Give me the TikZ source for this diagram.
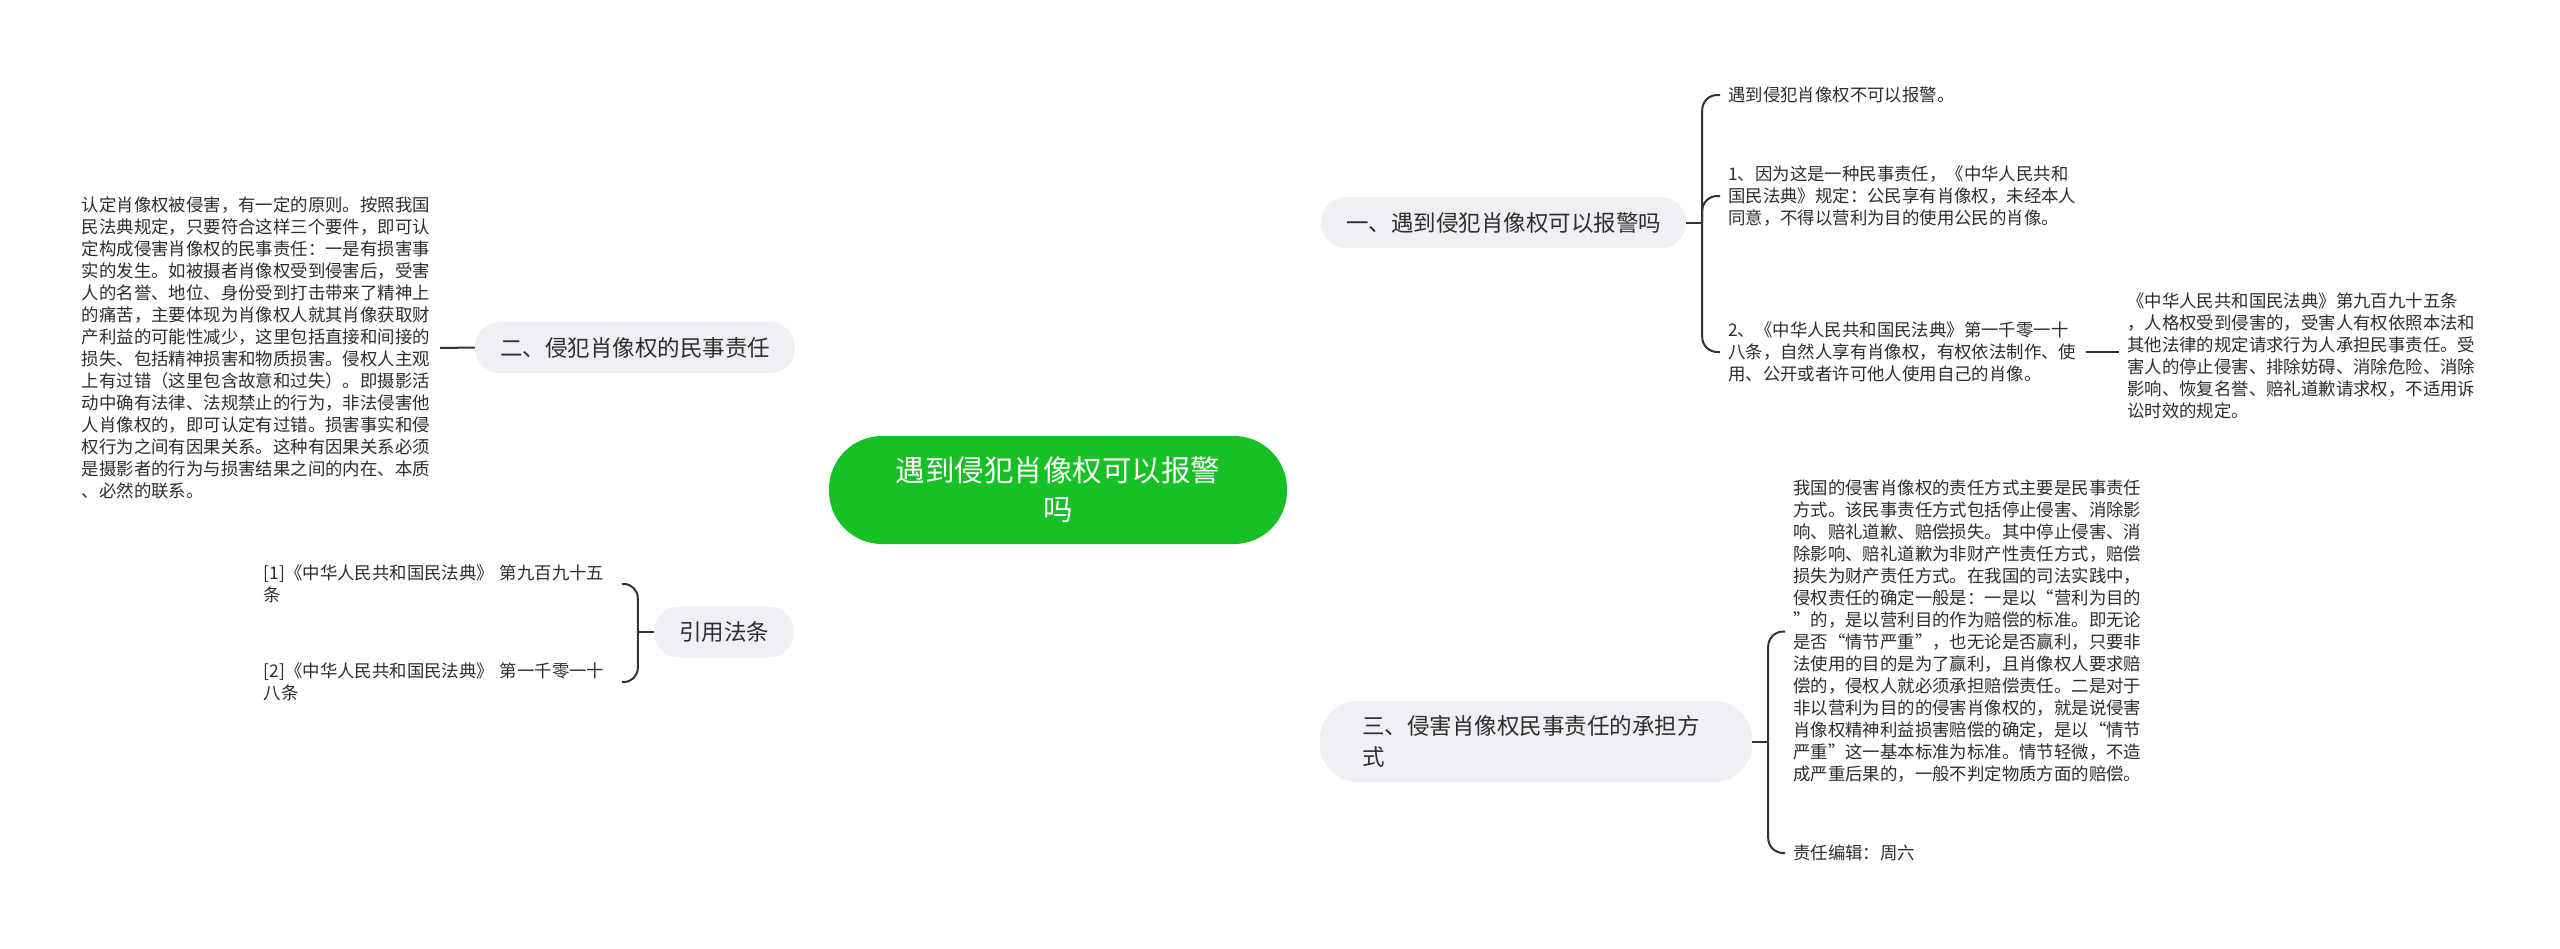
\documentclass[tikz,border=0pt]{standalone}
\usepackage{fontspec}
\setmainfont{Noto Sans CJK SC}
\usetikzlibrary{backgrounds,calc}
\definecolor{cgreen}{RGB}{22,192,37}
\definecolor{cgray}{RGB}{238,240,243}
\definecolor{cline}{RGB}{51,51,51}
\definecolor{ctext}{RGB}{45,45,45}
\begin{document}
\begin{tikzpicture}[x=1pt,y=-1pt,
  conn/.style={draw=cline,line width=2pt},
  mainnode/.style={fill=cgreen,rounded corners=53pt,minimum width=458pt,minimum height=108pt,text=white,align=center,font=\fontsize{29.5}{39}\selectfont},
  branch/.style={fill=cgray,rounded corners=25pt,minimum height=51pt,inner xsep=25pt,text=ctext,font=\fontsize{22.5}{31}\selectfont},
  leaf/.style={text width=350pt,align=left,inner xsep=8pt,inner ysep=0pt,text=ctext,font=\fontsize{17.4}{22}\selectfont},
]
\fill[white] (0,0) rectangle (2560,948);
\useasboundingbox (0,0) rectangle (2560,948);

% root
\node[mainnode] (root) at (1058,490) {遇到侵犯肖像权可以报警\\吗};

% branches
\node[branch] (b1) at (1503.5,222.5) {一、遇到侵犯肖像权可以报警吗};
\node[branch] (b2) at (635,347.5) {二、侵犯肖像权的民事责任};
\node[branch] (b4) at (724,632) {引用法条};
\node[branch,text width=348pt,align=left,inner xsep=42pt,minimum height=81pt,rounded corners=38pt,font=\fontsize{22.5}{31}\selectfont] (b3) at (1536,741.5) {三、侵害肖像权民事责任的承担方\\式};

% leaves of b1
\node[leaf,anchor=west] (c1) at (1720,95) {遇到侵犯肖像权不可以报警。};
\node[leaf,anchor=west] (c2) at (1720,196) {1、因为这是一种民事责任，《中华人民共和\\国民法典》规定：公民享有肖像权，未经本人\\同意，不得以营利为目的使用公民的肖像。};
\node[leaf,anchor=west] (c3) at (1720,352) {2、《中华人民共和国民法典》第一千零一十\\八条，自然人享有肖像权，有权依法制作、使\\用、公开或者许可他人使用自己的肖像。};
\node[leaf,anchor=west] (c4) at (2119,356) {《中华人民共和国民法典》第九百九十五条\\，人格权受到侵害的，受害人有权依照本法和\\其他法律的规定请求行为人承担民事责任。受\\害人的停止侵害、排除妨碍、消除危险、消除\\影响、恢复名誉、赔礼道歉请求权，不适用诉\\讼时效的规定。};

% leaf of b2
\node[leaf,anchor=east] (L) at (440,348) {认定肖像权被侵害，有一定的原则。按照我国\\民法典规定，只要符合这样三个要件，即可认\\定构成侵害肖像权的民事责任：一是有损害事\\实的发生。如被摄者肖像权受到侵害后，受害\\人的名誉、地位、身份受到打击带来了精神上\\的痛苦，主要体现为肖像权人就其肖像获取财\\产利益的可能性减少，这里包括直接和间接的\\损失、包括精神损害和物质损害。侵权人主观\\上有过错（这里包含故意和过失）。即摄影活\\动中确有法律、法规禁止的行为，非法侵害他\\人肖像权的，即可认定有过错。损害事实和侵\\权行为之间有因果关系。这种有因果关系必须\\是摄影者的行为与损害结果之间的内在、本质\\、必然的联系。};

% leaves of b3
\node[leaf,anchor=west] (d1) at (1785,631.5) {我国的侵害肖像权的责任方式主要是民事责任\\方式。该民事责任方式包括停止侵害、消除影\\响、赔礼道歉、赔偿损失。其中停止侵害、消\\除影响、赔礼道歉为非财产性责任方式，赔偿\\损失为财产责任方式。在我国的司法实践中，\\侵权责任的确定一般是：一是以“营利为目的\\”的，是以营利目的作为赔偿的标准。即无论\\是否“情节严重”，也无论是否赢利，只要非\\法使用的目的是为了赢利，且肖像权人要求赔\\偿的，侵权人就必须承担赔偿责任。二是对于\\非以营利为目的的侵害肖像权的，就是说侵害\\肖像权精神利益损害赔偿的确定，是以“情节\\严重”这一基本标准为标准。情节轻微，不造\\成严重后果的，一般不判定物质方面的赔偿。};
\node[leaf,anchor=west] (d2) at (1785,853) {责任编辑：周六};

% leaves of b4
\node[leaf,anchor=east] (e1) at (622,584) {[1]《中华人民共和国民法典》 第九百九十五\\条};
\node[leaf,anchor=east] (e2) at (622,682) {[2]《中华人民共和国民法典》 第一千零一十\\八条};

\begin{scope}[on background layer]
% root to branches
\draw[conn] ([xshift=4pt]root.center) .. controls +(0,-148) and +(-142,0) .. (b1.west);
\draw[conn] ([xshift=4pt]root.center) .. controls +(0,139) and +(-142,0) .. (b3.west);
\draw[conn] ([xshift=-8pt]root.center) .. controls +(0,-79) and +(141,0) .. (b2.east);
\draw[conn] ([xshift=-8pt]root.center) .. controls +(0,78) and +(141,0) .. (b4.east);
\end{scope}

% b1 bracket
\draw[conn] (b1.east) -- ++(16,0) coordinate (j1);
\draw[conn,rounded corners=15pt] (j1) |- (c1.west);
\draw[conn,rounded corners=15pt] (j1) |- (c2.west);
\draw[conn,rounded corners=15pt] (j1) |- (c3.west);
\draw[conn] (c3.east) -- (c3.east -| c4.west);

% b2
\draw[conn] (L.east) -- (b2.west);

% b3 bracket
\draw[conn] (b3.east) -- ++(16,0) coordinate (j3);
\draw[conn,rounded corners=15pt] (j3) |- (d1.west);
\draw[conn,rounded corners=15pt] (j3) |- (d2.west);

% b4 bracket
\draw[conn] (b4.west) -- ++(-16,0) coordinate (j4);
\draw[conn,rounded corners=14pt] (j4) |- (e1.east);
\draw[conn,rounded corners=14pt] (j4) |- (e2.east);
\end{tikzpicture}
\end{document}
